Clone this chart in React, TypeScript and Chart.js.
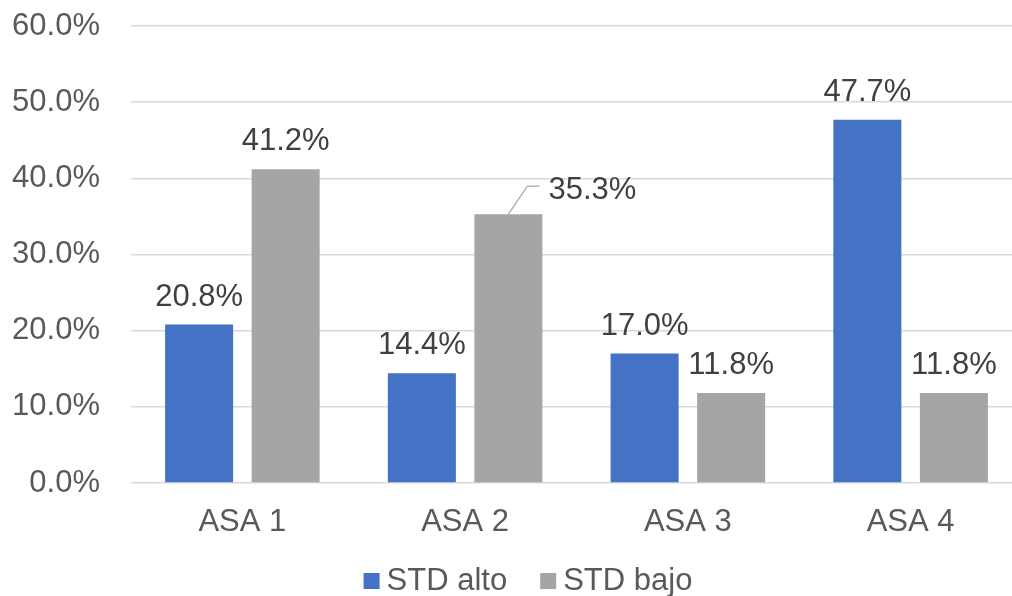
import React, { useEffect, useRef } from "react";
import { Chart, registerables } from "chart.js";

Chart.register(...registerables);

// Chart data (values in percent)
const categories = ["ASA 1", "ASA 2", "ASA 3", "ASA 4"];
const seriesNames = ["STD alto", "STD bajo"];
const stdAlto = [20.8, 14.4, 17.0, 47.7];
const stdBajo = [41.2, 35.3, 11.8, 11.8];
const yTicks = [0, 10, 20, 30, 40, 50, 60];

const FONT = "'Liberation Sans', Arial, sans-serif";
const COLORS = ["#4472C4", "#A5A5A5"];

// Labels that sit beside their bar with a leader line (dataset, index, offsets in px)
const calloutLabels = [
  { dataset: 1, index: 1, textDx: 40, baselineDy: -15, elbowDx: 19, elbowDy: -28, endDx: 31 },
];

const fmt = (v: number) => v.toFixed(1) + "%";

const valueLabelsPlugin = {
  id: "valueLabels",
  afterDatasetsDraw(chart: any) {
    const ctx = chart.ctx;
    ctx.save();
    ctx.font = `31px ${FONT}`;
    ctx.fillStyle = "#404040";
    ctx.textBaseline = "alphabetic";
    chart.data.datasets.forEach((ds: any, di: number) => {
      const meta = chart.getDatasetMeta(di);
      meta.data.forEach((el: any, i: number) => {
        const text = fmt(ds.data[i]);
        const c = calloutLabels.find((o) => o.dataset === di && o.index === i);
        if (c) {
          ctx.strokeStyle = "#A6A6A6";
          ctx.lineWidth = 1.2;
          ctx.beginPath();
          ctx.moveTo(el.x, el.y);
          ctx.lineTo(el.x + c.elbowDx, el.y + c.elbowDy);
          ctx.lineTo(el.x + c.endDx, el.y + c.elbowDy);
          ctx.stroke();
          ctx.textAlign = "left";
          ctx.fillText(text, el.x + c.textDx, el.y + c.baselineDy);
        } else {
          ctx.textAlign = "center";
          ctx.fillText(text, el.x, el.y - 19);
        }
      });
    });
    ctx.restore();
  },
};

const bottomLegendPlugin = {
  id: "bottomLegend",
  afterDraw(chart: any) {
    const ctx = chart.ctx;
    ctx.save();
    ctx.font = `31px ${FONT}`;
    const box = 16;
    const boxGap = 7;
    const itemGap = 33;
    const items = chart.data.datasets.map((ds: any) => ({
      label: ds.label,
      color: ds.backgroundColor,
      w: box + boxGap + ctx.measureText(ds.label).width,
    }));
    const total = items.reduce((s: number, it: any) => s + it.w, 0) + itemGap * (items.length - 1);
    let x = 528 - total / 2;
    const boxTop = 573;
    const baseline = 590;
    items.forEach((it: any) => {
      ctx.fillStyle = it.color;
      ctx.fillRect(x, boxTop, box, box);
      ctx.fillStyle = "#595959";
      ctx.textAlign = "left";
      ctx.textBaseline = "alphabetic";
      ctx.fillText(it.label, x + box + boxGap, baseline);
      x += it.w + itemGap;
    });
    ctx.restore();
  },
};

export default function App() {
  const canvasRef = useRef<HTMLCanvasElement | null>(null);

  useEffect(() => {
    if (!canvasRef.current) return;
    const chart = new Chart(canvasRef.current, {
      type: "bar",
      data: {
        labels: categories,
        datasets: [
          { label: seriesNames[0], data: stdAlto, backgroundColor: COLORS[0] },
          { label: seriesNames[1], data: stdBajo, backgroundColor: COLORS[1] },
        ],
      },
      options: {
        responsive: false,
        maintainAspectRatio: false,
        animation: false,
        layout: { padding: { top: 26, right: 0, bottom: 58, left: 0 } },
        datasets: {
          bar: { categoryPercentage: 0.777, barPercentage: 0.786 },
        },
        plugins: {
          legend: { display: false },
          tooltip: { enabled: false },
        },
        scales: {
          x: {
            grid: { display: false, drawTicks: false },
            border: { display: false },
            ticks: {
              color: "#595959",
              font: { family: FONT, size: 31 },
              padding: 21,
            },
            afterFit: (scale: any) => {
              scale.height = 55;
            },
          },
          y: {
            min: 0,
            max: 60,
            afterBuildTicks: (scale: any) => {
              scale.ticks = yTicks.map((v) => ({ value: v }));
            },
            grid: { color: "#D9D9D9", lineWidth: 1.5, drawTicks: false },
            border: { display: false },
            ticks: {
              color: "#595959",
              font: { family: FONT, size: 31 },
              padding: 31,
              callback: (v: any) => fmt(Number(v)),
            },
            afterFit: (scale: any) => {
              scale.width = 131;
              scale.paddingTop = 0;
              scale.paddingBottom = 0;
            },
          },
        },
      },
      plugins: [valueLabelsPlugin, bottomLegendPlugin],
    });
    return () => chart.destroy();
  }, []);

  return (
    <div
      style={{
        position: "fixed",
        left: 0,
        top: 0,
        width: 1012,
        height: 596,
        overflow: "hidden",
        background: "#ffffff",
      }}
    >
      <canvas ref={canvasRef} width={1022} height={596} style={{ display: "block" }} />
    </div>
  );
}
